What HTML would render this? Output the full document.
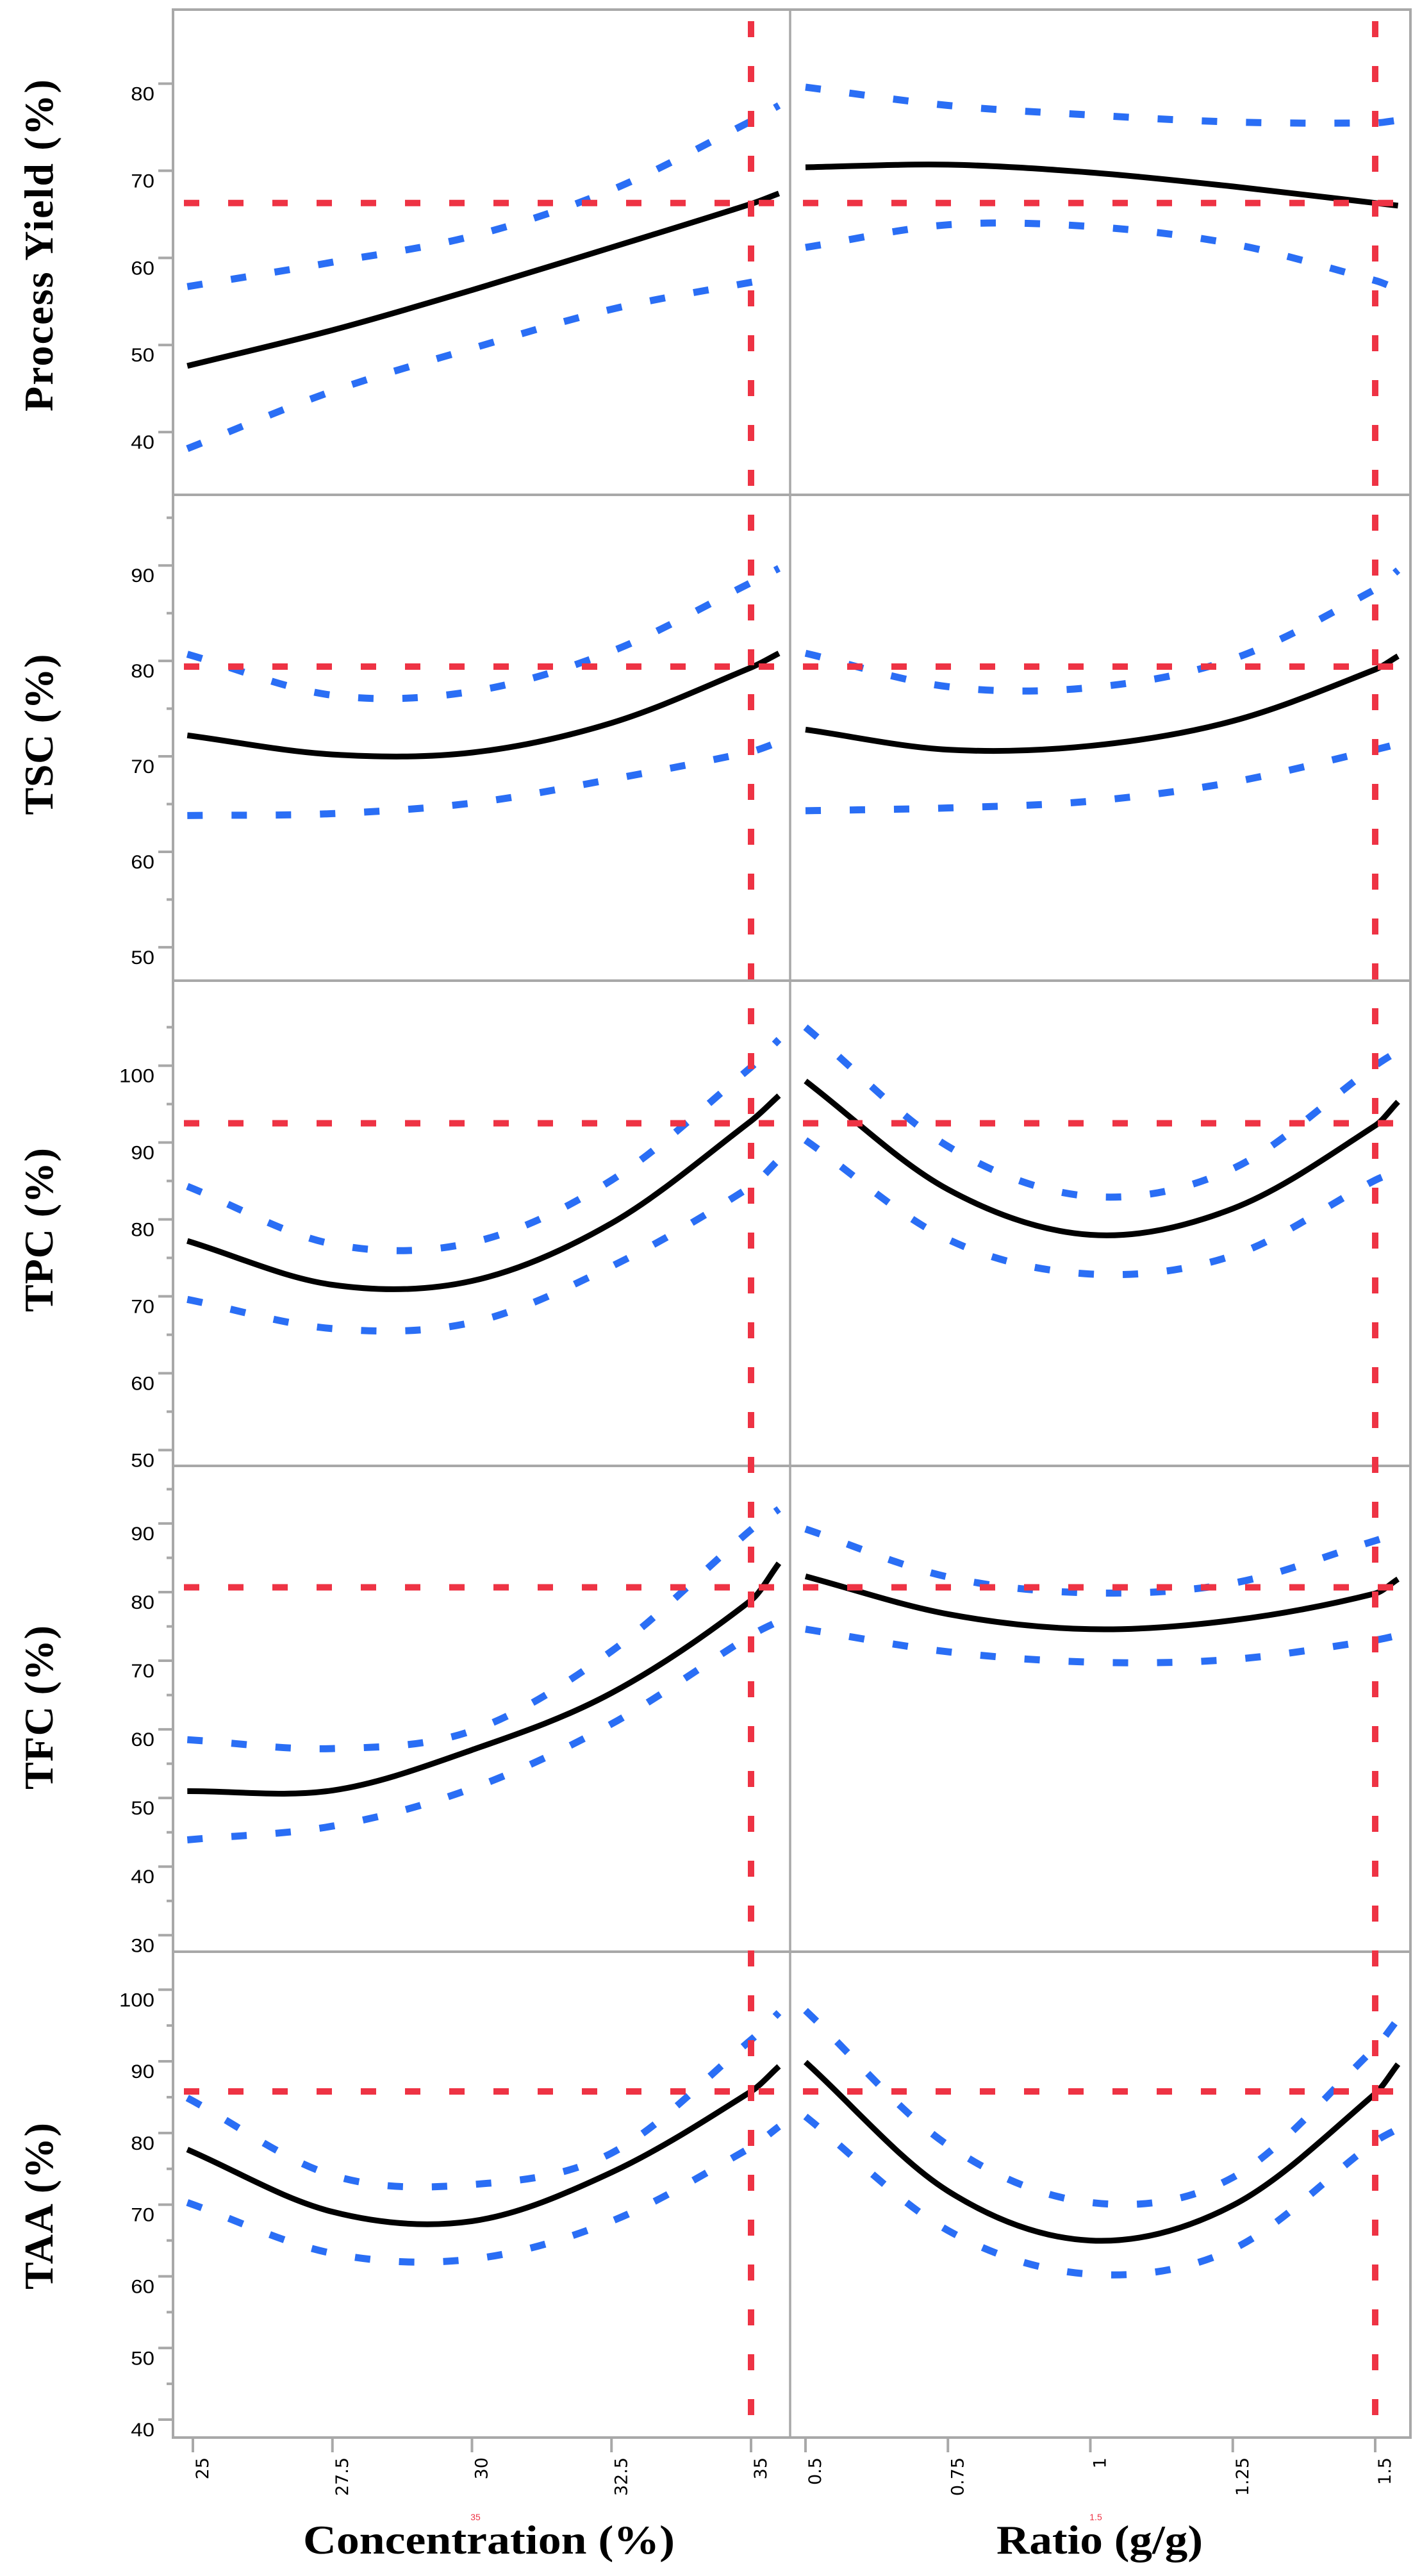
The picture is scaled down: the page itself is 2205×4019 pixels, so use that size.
<!DOCTYPE html>
<html>
<head>
<meta charset="utf-8">
<style>
html,body{margin:0;padding:0;background:#fff;}
svg{display:block;}
</style>
</head>
<body>
<svg id="chart" width="2205" height="4019" viewBox="0 0 2205 4019" xmlns="http://www.w3.org/2000/svg">
<rect x="0" y="0" width="2205" height="4019" fill="#fff"/>
<g id="content"></g>
</svg>
<script>
// ---- data ----
const concX = [24.9, 27.5, 30, 32.5, 35, 35.5];
const ratioX = [0.5, 0.75, 1, 1.25, 1.5, 1.54];
const rowTitles = ["Process Yield  (%)", "TSC (%)", "TPC (%)", "TFC (%)", "TAA (%)"];
const refValues = [66.3, 79.4, 92.5, 80.7, 85.8];
const concSetting = 35;
const ratioSetting = 1.5;
const concTicks = [25, 27.5, 30, 32.5, 35];
const concTickLabels = ["25", "27.5", "30", "32.5", "35"];
const ratioTicks = [0.5, 0.75, 1, 1.25, 1.5];
const ratioTickLabels = ["0.5", "0.75", "1", "1.25", "1.5"];
const majorTicks1 = [40, 50, 60, 70, 80];
const majorTicks2 = [50, 60, 70, 80, 90];
const majorTicks3 = [50, 60, 70, 80, 90, 100];
const majorTicks4 = [30, 40, 50, 60, 70, 80, 90];
const majorTicks5 = [40, 50, 60, 70, 80, 90, 100];
const minorTicks1 = [];
const minorTicks2 = [55, 65, 75, 85, 95];
const minorTicks3 = [55, 65, 75, 85, 95, 105];
const minorTicks4 = [35, 45, 55, 65, 75, 85, 95];
const minorTicks5 = [45, 55, 65, 75, 85, 95];
// Process yield
const yieldConcMean = [47.6, 51.7, 56.3, 61.2, 66.2, 67.4];
const yieldConcUpper = [56.7, 59.5, 62.5, 67.8, 75.7, 77.5];
const yieldConcLower = [38.1, 44.7, 49.6, 54.1, 57.2, 57.6];
const yieldRatioMean = [70.4, 70.7, 69.8, 68.2, 66.3, 66.0];
const yieldRatioUpper = [79.6, 77.5, 76.4, 75.6, 75.5, 75.8];
const yieldRatioLower = [61.2, 63.8, 63.6, 61.6, 57.4, 56.4];
// TSC
const tscConcMean = [72.2, 70.2, 70.4, 73.5, 79.3, 80.8];
const tscConcUpper = [80.7, 76.4, 76.8, 81.0, 88.2, 89.7];
const tscConcLower = [63.8, 64.0, 65.1, 67.6, 70.5, 71.5];
const tscRatioMean = [72.8, 70.7, 71.1, 73.7, 79.1, 80.5];
const tscRatioUpper = [80.8, 77.3, 77.2, 80.2, 87.5, 89.5];
const tscRatioLower = [64.3, 64.6, 65.3, 67.3, 70.7, 71.3];
// TPC
const tpcConcMean = [77.2, 71.5, 72.0, 79.5, 92.8, 96.1];
const tpcConcUpper = [84.3, 76.8, 77.0, 85.1, 99.8, 103.4];
const tpcConcLower = [69.6, 65.8, 66.6, 73.9, 84.3, 87.8];
const tpcRatioMean = [98.0, 83.9, 78.0, 81.4, 92.2, 95.3];
const tpcRatioUpper = [105.0, 89.5, 83.0, 86.6, 100.0, 101.9];
const tpcRatioLower = [90.3, 77.4, 72.9, 75.3, 85.1, 86.3];
// TFC
const tfcConcMean = [51.0, 51.1, 57.0, 65.3, 78.8, 84.2];
const tfcConcUpper = [58.5, 57.2, 59.8, 71.4, 89.1, 92.1];
const tfcConcLower = [43.9, 45.9, 51.4, 60.8, 73.7, 75.8];
const tfcRatioMean = [82.3, 76.8, 74.6, 75.9, 79.8, 81.9];
const tfcRatioUpper = [89.2, 82.2, 79.9, 81.3, 87.5, 88.6];
const tfcRatioLower = [74.6, 71.3, 69.8, 70.2, 73.0, 73.7];
// TAA
const taaConcMean = [77.7, 69.0, 67.7, 74.5, 85.8, 89.3];
const taaConcUpper = [84.9, 74.1, 72.8, 77.2, 93.0, 96.8];
const taaConcLower = [70.3, 63.2, 62.4, 67.7, 78.0, 80.9];
const taaRatioMean = [89.9, 71.9, 65.0, 69.9, 85.5, 89.6];
const taaRatioUpper = [97.1, 78.3, 70.3, 73.8, 91.9, 95.9];
const taaRatioLower = [82.3, 66.4, 60.3, 63.8, 78.8, 80.6];

// ---- layout (geometry, not data) ----
const NS = "http://www.w3.org/2000/svg";
const root = document.getElementById("content");
const LEFT = 270, MID = 1233, RIGHT = 2201;
const rowGeom = [
  {top: 15, bottom: 772, vTop: 88.5, vBot: 32.8},
  {top: 772, bottom: 1530, vTop: 97.4, vBot: 46.5},
  {top: 1530, bottom: 2287, vTop: 111.05, vBot: 47.95},
  {top: 2287, bottom: 3045, vTop: 98.4, vBot: 27.6},
  {top: 3045, bottom: 3803, vTop: 105.3, vBot: 37.5}
];
const rowMajors = [majorTicks1, majorTicks2, majorTicks3, majorTicks4, majorTicks5];
const rowMinors = [minorTicks1, minorTicks2, minorTicks3, minorTicks4, minorTicks5];
const rowSeries = [
  [yieldConcMean, yieldConcUpper, yieldConcLower, yieldRatioMean, yieldRatioUpper, yieldRatioLower],
  [tscConcMean, tscConcUpper, tscConcLower, tscRatioMean, tscRatioUpper, tscRatioLower],
  [tpcConcMean, tpcConcUpper, tpcConcLower, tpcRatioMean, tpcRatioUpper, tpcRatioLower],
  [tfcConcMean, tfcConcUpper, tfcConcLower, tfcRatioMean, tfcRatioUpper, tfcRatioLower],
  [taaConcMean, taaConcUpper, taaConcLower, taaRatioMean, taaRatioUpper, taaRatioLower]
];
const rowKeys = ["process-yield", "tsc", "tpc", "tfc", "taa"];
const titleLen = [518, 251, 256, 256, 260];
const titleCenters = [383, 1146, 1919, 2664, 3442];

function xConc(v) { return 301 + (v - 25) * 87.1; }
function xRatio(v) { return 1257 + (v - 0.5) * 889; }
function yRow(r, v) {
  const g = rowGeom[r];
  return g.top + (g.vTop - v) / (g.vTop - g.vBot) * (g.bottom - g.top);
}
function mk(tag, attrs, parent) {
  const el = document.createElementNS(NS, tag);
  for (const k in attrs) el.setAttribute(k, attrs[k]);
  (parent || root).appendChild(el);
  return el;
}
function smoothPath(pts) {
  const n = pts.length;
  const m = [];
  for (let i = 0; i < n; i++) {
    if (i === 0) m.push((pts[1][1] - pts[0][1]) / (pts[1][0] - pts[0][0]));
    else if (i === n - 1) m.push((pts[n - 1][1] - pts[n - 2][1]) / (pts[n - 1][0] - pts[n - 2][0]));
    else m.push((pts[i + 1][1] - pts[i - 1][1]) / (pts[i + 1][0] - pts[i - 1][0]));
  }
  let d = "M" + pts[0][0].toFixed(1) + "," + pts[0][1].toFixed(1);
  for (let i = 0; i < n - 1; i++) {
    const dx = (pts[i + 1][0] - pts[i][0]) / 3;
    const c1x = pts[i][0] + dx, c1y = pts[i][1] + m[i] * dx;
    const c2x = pts[i + 1][0] - dx, c2y = pts[i + 1][1] - m[i + 1] * dx;
    d += " C" + c1x.toFixed(1) + "," + c1y.toFixed(1) + " " + c2x.toFixed(1) + "," + c2y.toFixed(1) + " " + pts[i + 1][0].toFixed(1) + "," + pts[i + 1][1].toFixed(1);
  }
  return d;
}

const GRAY = "#a8a8a8", RED = "#ee3344", BLUE = "#2a6ef5";

for (let r = 0; r < 5; r++) {
  const s = rowSeries[r];
  const g = mk("g", {});
  
  
  const clipId = "clip" + r;
  const cp = mk("clipPath", {id: clipId}, g);
  mk("rect", {x: LEFT, y: rowGeom[r].top, width: RIGHT - LEFT, height: rowGeom[r].bottom - rowGeom[r].top}, cp);
  const kinds = ["mean", "upper-ci", "lower-ci"];
  for (let side = 0; side < 2; side++) {
    for (let k = 0; k < 3; k++) {
      const vals = s[side * 3 + k];
      const xs = side === 0 ? concX : ratioX;
      const pts = vals.map((v, i) => [side === 0 ? xConc(xs[i]) : xRatio(xs[i]), yRow(r, v)]);
      const isMean = k === 0;
      const p = mk("path", {
        d: smoothPath(pts), fill: "none",
        stroke: isMean ? "#000" : BLUE,
        "stroke-width": isMean ? 9 : 11,
        "stroke-dasharray": isMean ? "none" : "24 45",
        "clip-path": "url(#" + clipId + ")"
      }, g);
      
      
    }
  }
  const hy = yRow(r, refValues[r]);
  const hl = mk("line", {x1: 287, y1: hy, x2: RIGHT, y2: hy, stroke: RED, "stroke-width": 10, "stroke-dasharray": "24 45"}, g);
  
  

  rowMajors[r].forEach(v => {
    const y = yRow(r, v);
    const t = mk("line", {x1: 247, y1: y, x2: LEFT, y2: y, stroke: GRAY, "stroke-width": 4});
    
    
    const lb = mk("text", {transform: "translate(241," + (y + 26) + ") scale(1.1,1)", "text-anchor": "end",
      "font-family": "Liberation Sans, sans-serif", "font-size": 30, fill: "#000"});
    lb.textContent = String(v);
    
    
  });
  rowMinors[r].forEach(v => {
    const y = yRow(r, v);
    const t = mk("line", {x1: 260, y1: y, x2: LEFT, y2: y, stroke: GRAY, "stroke-width": 4});
    
    
  });
  const tt = mk("text", {transform: "translate(82," + titleCenters[r] + ") rotate(-90)", "text-anchor": "middle",
    "font-family": "Liberation Serif, serif", "font-weight": "bold", "font-size": 64, fill: "#000",
    textLength: titleLen[r], lengthAdjust: "spacing"});
  tt.textContent = rowTitles[r];
  
  
}

for (let r = 0; r < 5; r++) {
  const g = rowGeom[r];
  const fr = mk("rect", {x: LEFT, y: g.top, width: RIGHT - LEFT, height: g.bottom - g.top, fill: "none", stroke: GRAY, "stroke-width": 4});
  
  
}
const md = mk("line", {x1: MID, y1: 15, x2: MID, y2: 3803, stroke: GRAY, "stroke-width": 3.5});



const vl1 = mk("line", {x1: xConc(concSetting), y1: 33, x2: xConc(concSetting), y2: 3785, stroke: RED, "stroke-width": 10, "stroke-dasharray": "25 45"});


const vl2 = mk("line", {x1: xRatio(ratioSetting), y1: 33, x2: xRatio(ratioSetting), y2: 3785, stroke: RED, "stroke-width": 10, "stroke-dasharray": "25 45"});



function xTick(x, label, key) {
  const t = mk("line", {x1: x, y1: 3803, x2: x, y2: 3826, stroke: GRAY, "stroke-width": 4});
  
  
  const lb = mk("text", {transform: "translate(" + (x + 24) + ",3834) rotate(-90)", "text-anchor": "end",
    "font-family": "DejaVu Sans, sans-serif", "font-size": 27, fill: "#000"});
  lb.textContent = label;
  
  
}
concTicks.forEach((v, i) => xTick(xConc(v), concTickLabels[i], 'concentration'));
ratioTicks.forEach((v, i) => xTick(xRatio(v), ratioTickLabels[i], 'ratio'));

const cv1 = mk("text", {x: 742, y: 3932, "text-anchor": "middle", "font-family": "Liberation Sans, sans-serif", "font-size": 14, fill: RED});
cv1.textContent = String(concSetting);


const cv2 = mk("text", {x: 1710, y: 3932, "text-anchor": "middle", "font-family": "Liberation Sans, sans-serif", "font-size": 14, fill: RED});
cv2.textContent = String(ratioSetting);



const xt1 = mk("text", {x: 763, y: 3984, "text-anchor": "middle", "font-family": "Liberation Serif, serif", "font-weight": "bold", "font-size": 64, fill: "#000", textLength: 580, lengthAdjust: "spacingAndGlyphs"});
xt1.textContent = "Concentration (%)";


const xt2 = mk("text", {x: 1716, y: 3984, "text-anchor": "middle", "font-family": "Liberation Serif, serif", "font-weight": "bold", "font-size": 64, fill: "#000", textLength: 322, lengthAdjust: "spacingAndGlyphs"});
xt2.textContent = "Ratio (g/g)";


</script>
</body>
</html>
